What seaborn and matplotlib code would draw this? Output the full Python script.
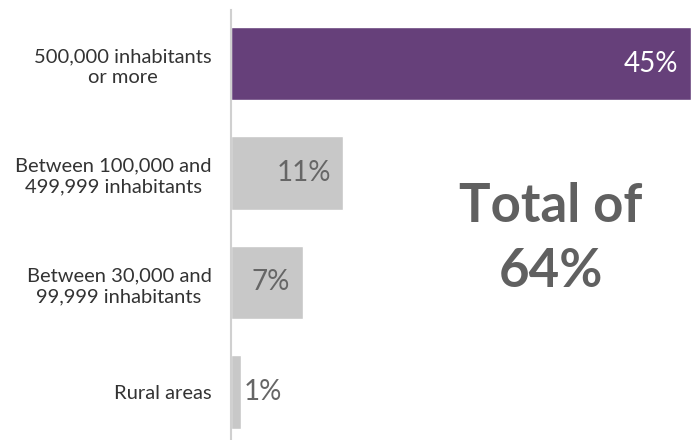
import matplotlib
matplotlib.use("Agg")
import matplotlib.pyplot as plt
import seaborn as sns
import pandas as pd

categories = [
    "500,000 inhabitants\nor more",
    "Between 100,000 and\n499,999 inhabitants",
    "Between 30,000 and\n99,999 inhabitants",
    "Rural areas",
]
shares = [45, 11, 7, 1]
bar_colors = ["#66407a", "#c8c8c8", "#c8c8c8", "#c8c8c8"]
label_colors = ["white", "#666666", "#666666", "#666666"]
total_text = "Total of\n64%"

sns.set_theme(style="white")
plt.rcParams["font.family"] = ["Lato", "DejaVu Sans"]

df = pd.DataFrame({"category": categories, "share": shares})

fig = plt.figure(figsize=(6.91, 4.40), dpi=100)
ax = fig.add_axes([231 / 691, 0.0, 1 - 231 / 691, 1 - 10 / 440])

sns.barplot(data=df, x="share", y="category", hue="category",
            palette=bar_colors, legend=False, width=0.67,
            saturation=1, ax=ax)

ax.set_xlim(0, 45)
ax.set_ylim(3.44, -0.49)
ax.set_xlabel("")
ax.set_ylabel("")
ax.set_xticks([])

for side in ["top", "right", "bottom"]:
    ax.spines[side].set_visible(False)
ax.spines["left"].set_color("#d0d0d0")
ax.spines["left"].set_linewidth(1.5)

ax.tick_params(axis="y", length=0, pad=14, labelsize=14.5, labelcolor="#333333")
for lbl in ax.get_yticklabels():
    lbl.set_multialignment("center")
    lbl.set_linespacing(1.3)

for i, (v, c) in enumerate(zip(shares, label_colors)):
    if v >= 3:
        ax.annotate(f"{v}%", xy=(v, i), xytext=(-9, 0),
                    textcoords="offset points", ha="right", va="center",
                    fontsize=20, color=c)
    else:
        ax.annotate(f"{v}%", xy=(v, i), xytext=(2, 0),
                    textcoords="offset points", ha="left", va="center",
                    fontsize=20, color=c)

fig.text(551 / 691, 1 - 239 / 440, total_text, ha="center", va="center",
         fontsize=38, fontweight="bold", color="#606060", linespacing=1.4)

fig.savefig("out.png", dpi=100)
